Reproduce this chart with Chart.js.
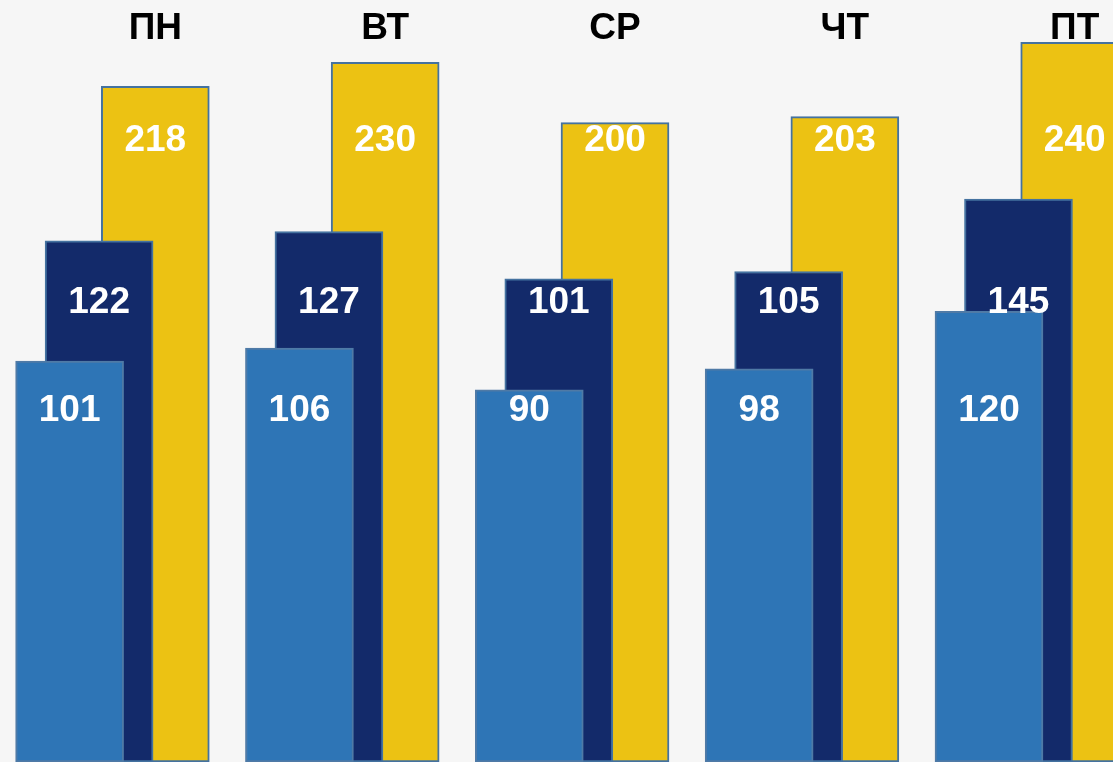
<!DOCTYPE html>
<html>
<head>
<meta charset="utf-8">
<script src="https://cdn.jsdelivr.net/npm/chart.js@4/dist/chart.umd.min.js"></script>
<style>
  html, body { margin: 0; padding: 0; background: #f6f6f6; }
  #wrap { width: 1113px; height: 762px; position: relative; }
</style>
</head>
<body>
<div id="wrap"><canvas id="c"></canvas></div>
<script>
const days = ['ПН', 'ВТ', 'СР', 'ЧТ', 'ПТ'];
const seriesA = [101, 106, 90, 98, 120];   // light blue (front)
const seriesB = [122, 127, 101, 105, 145]; // dark navy (middle)
const seriesC = [218, 230, 200, 203, 240]; // yellow (back)

const toPoints = arr => arr.map((v, i) => ({ x: i, y: v }));

const labelPlugin = {
  id: 'labels',
  afterDatasetsDraw(chart) {
    const ctx = chart.ctx;
    ctx.save();
    ctx.font = 'bold 37px "Liberation Sans", Arial, sans-serif';
    ctx.textAlign = 'center';
    ctx.textBaseline = 'middle';
    ctx.fillStyle = '#ffffff';
    chart.data.datasets.forEach((ds, di) => {
      const meta = chart.getDatasetMeta(di);
      meta.data.forEach((bar, i) => {
        ctx.fillText(String(ds.data[i].y), bar.x, ds.labelY);
      });
    });
    // day names above the yellow bars
    const xs = chart.scales.xC;
    ctx.fillStyle = '#000000';
    days.forEach((d, i) => {
      ctx.fillText(d, xs.getPixelForValue(i), 29);
    });
    ctx.restore();
  }
};

const border = '#4472a0';
const xOpt = (min, max) => ({ type: 'linear', display: false, offset: false, min, max, grid: { offset: false } });
new Chart(document.getElementById('c'), {
  type: 'bar',
  data: {
    datasets: [
      { data: toPoints(seriesA), xAxisID: 'xA', yAxisID: 'yA', base: -52, labelY: 411,
        backgroundColor: '#2e75b6', borderColor: '#4f7aa6', borderWidth: 2, borderSkipped: false },
      { data: toPoints(seriesB), xAxisID: 'xB', yAxisID: 'yB', base: -166, labelY: 303,
        backgroundColor: '#132a6a', borderColor: border, borderWidth: 2, borderSkipped: false },
      { data: toPoints(seriesC), xAxisID: 'xC', yAxisID: 'yC', base: -118, labelY: 141,
        backgroundColor: '#ecc213', borderColor: border, borderWidth: 2, borderSkipped: false }
    ]
  },
  options: {
    responsive: true,
    maintainAspectRatio: false,
    animation: false,
    layout: { padding: 0 },
    datasets: { bar: { barThickness: 108, grouped: false } },
    plugins: { legend: { display: false }, tooltip: { enabled: false } },
    scales: {
      xA: xOpt(-0.3028, 4.5395),
      xB: xOpt(-0.4311, 4.4112),
      xC: xOpt(-0.6757, 4.1666),
      yA: { type: 'linear', display: false, min: -52, max: 238.8 },
      yB: { type: 'linear', display: false, min: -166, max: 255 },
      yC: { type: 'linear', display: false, min: -118, max: 261 }
    }
  },
  plugins: [labelPlugin]
});
</script>
</body>
</html>
